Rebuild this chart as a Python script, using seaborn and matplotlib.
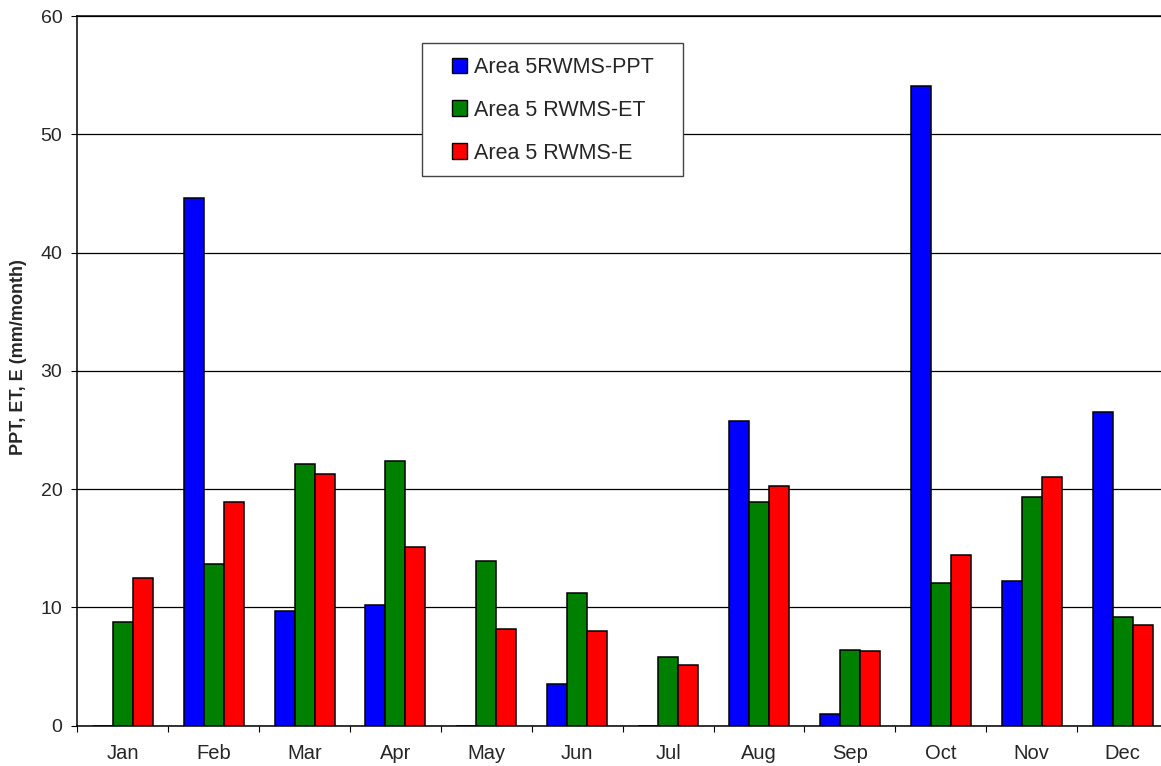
import matplotlib
matplotlib.use("Agg")
import matplotlib.pyplot as plt
from matplotlib.patches import Rectangle
from matplotlib.ticker import FixedLocator
import seaborn as sns
import pandas as pd

# Monthly water balance at the Area 5 RWMS (mm/month)
months = ["Jan", "Feb", "Mar", "Apr", "May", "Jun",
          "Jul", "Aug", "Sep", "Oct", "Nov", "Dec"]
series_names = ["Area 5RWMS-PPT", "Area 5 RWMS-ET", "Area 5 RWMS-E"]
ppt = [0.0, 44.6, 9.7, 10.2, 0.0, 3.5, 0.0, 25.8, 1.0, 54.1, 12.2, 26.5]
et = [8.75, 13.7, 22.1, 22.4, 13.9, 11.2, 5.8, 18.9, 6.4, 12.05, 19.3, 9.2]
evap = [12.5, 18.9, 21.3, 15.1, 8.2, 8.0, 5.1, 20.25, 6.35, 14.45, 21.05, 8.55]
bar_colors = ["#0000FF", "#008000", "#FF0000"]
y_ticks = [0, 10, 20, 30, 40, 50, 60]

df = pd.DataFrame({
    "month": months * 3,
    "series": [series_names[0]] * 12 + [series_names[1]] * 12 + [series_names[2]] * 12,
    "value": ppt + et + evap,
})

sns.set_style("white")
plt.rcParams["font.family"] = ["Liberation Sans", "DejaVu Sans"]

fig = plt.figure(figsize=(11.61, 7.66), dpi=100)
ax = fig.add_axes([0.0666, 0.0526, 0.9395, 0.9265])

sns.barplot(data=df, x="month", y="value", hue="series",
            order=months, hue_order=series_names, palette=bar_colors,
            width=0.66, gap=0, edgecolor="black", linewidth=1.1,
            saturation=1, errorbar=None, ax=ax, zorder=3)

ax.set_xlim(-0.5, 11.5)
ax.set_ylim(0, 60)
ax.set_yticks(y_ticks)
ax.yaxis.grid(True, color="black", linewidth=0.9, zorder=0)
ax.xaxis.grid(False)
ax.set_axisbelow(True)

for side in ["right"]:
    ax.spines[side].set_visible(False)
for side in ["left", "bottom", "top"]:
    ax.spines[side].set_color("black")
    ax.spines[side].set_linewidth(1.1)

# month names centred on the groups, tick marks on the group boundaries
ax.xaxis.set_minor_locator(FixedLocator([i + 0.5 for i in range(-1, 12)]))
ax.tick_params(axis="x", which="major", length=0, pad=13.5, labelsize=14.5)
ax.tick_params(axis="x", which="minor", length=4.5, width=0.8, color="black",
               direction="out", bottom=True)
ax.tick_params(axis="y", which="major", length=4.3, width=0.8, color="black",
               direction="out", left=True, pad=6.5, labelsize=14)

ax.set_xlabel("")
ax.set_ylabel("PPT, ET, E (mm/month)", fontsize=13, fontweight="bold")
ax.yaxis.set_label_coords(-0.0461, 0.52)

# legend inside a framed white box
handles, labels = ax.get_legend_handles_labels()
if ax.get_legend() is not None:
    ax.get_legend().remove()
ax.add_patch(Rectangle((0.3163, 0.775), 0.2393, 0.1866, transform=ax.transAxes,
                       facecolor="white", edgecolor="#444444", linewidth=1.0,
                       zorder=5, clip_on=False))
for h in handles:
    h.set_edgecolor("black")
    h.set_linewidth(1.0)
leg = ax.legend(handles, labels, loc="center left", bbox_to_anchor=(0.3435, 0.8675),
                frameon=False, fontsize=15.5, handlelength=0.7, handleheight=0.7,
                handletextpad=0.3, labelspacing=1.02, borderpad=0, borderaxespad=0)
leg.set_zorder(6)

fig.savefig("out.png", dpi=100)
